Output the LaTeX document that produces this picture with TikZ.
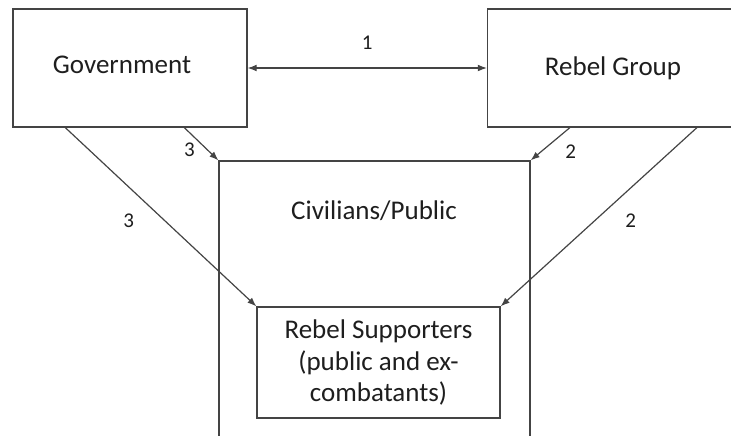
\documentclass[tikz,border=0pt]{standalone}
\usepackage{fontspec}
\setmainfont{Carlito}
\usetikzlibrary{arrows.meta,calc}
\definecolor{linegray}{HTML}{444444}
\definecolor{textgray}{HTML}{1E1E1E}

\begin{document}
\begin{tikzpicture}[x=0.5pt,y=-0.5pt,
    box/.style={draw=linegray,line width=0.65pt,inner sep=0pt},
    link/.style={draw=linegray,line width=0.6pt,-{Latex[length=4.5pt,width=3.4pt]}},
    num/.style={font=\fontsize{10.5}{12}\selectfont,text=textgray,inner sep=1pt}]
            \useasboundingbox (0,0) rectangle (731,435);
            \node[box,minimum width=117pt,minimum height=59pt] (gov) at (130,68) {};
            \node[text=textgray,font=\fontsize{13.5}{15}\selectfont] (govtext) at (122,65) {Government};
            \node[box,minimum width=126pt,minimum height=59pt] (reb) at (613.5,68) {};
            \node[text=textgray,font=\fontsize{13.5}{15}\selectfont] (rebtext) at (613,68) {Rebel Group};
            \node[box,minimum width=155.5pt,minimum height=142pt] (civ) at (374.5,303) {};
            \node[text=textgray,font=\fontsize{13.5}{15}\selectfont] (civtext) at (374,211) {Civilians/Public};
            \node[box,minimum width=121.5pt,minimum height=55.5pt,text=textgray,
                  align=center,font=\fontsize{13.5}{15.8}\selectfont] (sup) at (378.5,362.5)
                  {Rebel Supporters\\(public and ex-\\combatants)};
            % government and rebels
            \draw[link,{Latex[length=4.5pt,width=3.4pt]}-{Latex[length=4.5pt,width=3.4pt]}] (gov.east) -- (reb.west)
                node[num,midway,above=8pt] (n1) {1};
            % arrows from the government
            \draw[link] ($(gov.south west)+(172,0)$) -- (civ.north west)
                node[num,pos=0.68,left=5pt] (n3a) {3};
            \draw[link] ($(gov.south west)+(53,0)$) -- (sup.north west)
                node[num,pos=0.52,left=14pt] (n3b) {3};
            % arrows from the rebel group
            \draw[link] ($(reb.south west)+(83,0)$) -- (civ.north east)
                node[num,pos=0.74,right=11pt] (n2a) {2};
            \draw[link] ($(reb.south west)+(210,0)$) -- (sup.north east)
                node[num,pos=0.52,right=14pt] (n2b) {2};
\end{tikzpicture}
\end{document}
